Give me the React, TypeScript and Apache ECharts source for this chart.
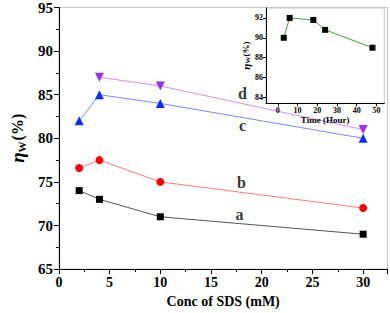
import React, { useEffect, useRef } from "react";
import * as echarts from "echarts";

const concSDS = [2, 4, 10, 30];
const seriesA = [74, 73, 71, 69];
const seriesB = [76.6, 77.5, 75, 72];
const seriesC = [82, 85, 84, 80];
const seriesD: (number | null)[] = [null, 87, 86, 81];

const curveLabels = [
  { name: "d", x: 18.1, y: 85.1 },
  { name: "c", x: 18.1, y: 81.5 },
  { name: "b", x: 18.0, y: 74.9 },
  { name: "a", x: 17.8, y: 71.3 },
];

const insetTime = [3, 6, 18, 24, 48];
const insetEta = [90, 92, 91.8, 90.8, 89];
const insetXTicks = [0, 10, 20, 30, 40, 50];
const insetYTicks = [84, 86, 88, 90, 92];

const FONT = "'Liberation Serif', 'Times New Roman', serif";

export default function App() {
  const ref = useRef<HTMLDivElement>(null);
  useEffect(() => {
    if (!ref.current) return;
    const chart = echarts.init(ref.current, undefined, { renderer: "svg" });
    const pair = (xs: number[], ys: (number | null)[]) =>
      xs.map((x, i) => [x, ys[i]]).filter((p) => p[1] !== null);
    const downTri = "path://M0,0 L10,0 L5,9 Z";
    const mainLine = (name: string, ys: (number | null)[], lineColor: string, markColor: string, symbol: string, size: number) => ({
      type: "line",
      name,
      xAxisIndex: 0,
      yAxisIndex: 0,
      data: pair(concSDS, ys),
      symbol,
      symbolSize: size,
      lineStyle: { color: lineColor, width: 1 },
      itemStyle: { color: markColor },
      z: 3,
    });
    chart.setOption({
      animation: false,
      backgroundColor: "#fff",
      grid: [
        { left: 45, top: 7, right: 2.5, bottom: 39, show: true, borderColor: "#c8c8c8", borderWidth: 1, backgroundColor: "transparent" },
        { left: 266, top: 8, right: 5.7, bottom: 209.7, show: true, borderColor: "#c8c8c8", borderWidth: 1, backgroundColor: "#fff", z: 5 },
      ],
      xAxis: [
        {
          type: "value",
          gridIndex: 0,
          min: 0,
          max: 32.4,
          interval: 5,
          splitLine: { show: false },
          axisLine: { onZero: false, lineStyle: { color: "#000", width: 1 } },
          axisTick: { length: 5, lineStyle: { color: "#000" } },
          minorTick: { show: true, splitNumber: 2, length: 3, lineStyle: { color: "#000" } },
          axisLabel: { color: "#000", fontFamily: FONT, fontWeight: "bold", fontSize: 14, margin: 6, showMaxLabel: false },
          name: "Conc of SDS (mM)",
          nameLocation: "middle",
          nameGap: 23,
          nameTextStyle: { color: "#000", fontFamily: FONT, fontWeight: "bold", fontSize: 14 },
        },
        {
          type: "value",
          gridIndex: 1,
          min: -6,
          max: 54,
          splitLine: { show: false },
          axisLine: { onZero: false, lineStyle: { color: "#000", width: 1 } },
          axisTick: { length: 3, customValues: insetXTicks, lineStyle: { color: "#000" } },
          axisLabel: { color: "#000", fontFamily: FONT, fontWeight: "bold", fontSize: 8, margin: 3, customValues: insetXTicks },
          name: "Time (Hour)",
          nameLocation: "middle",
          nameGap: 9,
          nameTextStyle: { color: "#000", fontFamily: FONT, fontWeight: "bold", fontSize: 9 },
          z: 6,
        },
      ],
      yAxis: [
        {
          type: "value",
          gridIndex: 0,
          min: 65,
          max: 95,
          interval: 5,
          splitLine: { show: false },
          axisLine: { onZero: false, lineStyle: { color: "#000", width: 1 } },
          axisTick: { length: 5, lineStyle: { color: "#000" } },
          minorTick: { show: true, splitNumber: 2, length: 3, lineStyle: { color: "#000" } },
          axisLabel: { color: "#000", fontFamily: FONT, fontWeight: "bold", fontSize: 15, margin: 6 },
          name: "{e|η}{s|W}{n|(%)}",
          nameLocation: "middle",
          nameGap: 24,
          nameTextStyle: {
            color: "#000",
            fontFamily: FONT,
            rich: {
              e: { fontFamily: FONT, fontStyle: "italic", fontWeight: "bold", fontSize: 19, color: "#000" },
              s: { fontFamily: FONT, fontWeight: "bold", fontSize: 11, color: "#000", padding: [8, 1, 0, 0] },
              n: { fontFamily: FONT, fontWeight: "bold", fontSize: 16, color: "#000" },
            },
          },
        },
        {
          type: "value",
          gridIndex: 1,
          min: 83.4,
          max: 93,
          splitLine: { show: false },
          axisLine: { onZero: false, lineStyle: { color: "#000", width: 1 } },
          axisTick: { length: 3, customValues: insetYTicks, lineStyle: { color: "#000" } },
          axisLabel: { color: "#000", fontFamily: FONT, fontWeight: "bold", fontSize: 8, margin: 3, customValues: insetYTicks },
          name: "{e|η}{s|W}{n|(%)}",
          nameLocation: "middle",
          nameGap: 14,
          nameTextStyle: {
            color: "#000",
            fontFamily: FONT,
            rich: {
              e: { fontFamily: FONT, fontStyle: "italic", fontWeight: "bold", fontSize: 11, color: "#000" },
              s: { fontFamily: FONT, fontWeight: "bold", fontSize: 7, color: "#000", padding: [4, 0, 0, 0] },
              n: { fontFamily: FONT, fontWeight: "bold", fontSize: 9, color: "#000" },
            },
          },
          z: 6,
        },
      ],
      series: [
        mainLine("a", seriesA, "#555555", "#000000", "rect", 7),
        mainLine("b", seriesB, "#ff7a7a", "#ff0000", "circle", 8),
        mainLine("c", seriesC, "#6f8cff", "#0a2cff", "triangle", 9),
        mainLine("d", seriesD, "#d98bff", "#a030f0", downTri, 9),
        {
          type: "scatter",
          xAxisIndex: 0,
          yAxisIndex: 0,
          symbolSize: 1,
          itemStyle: { color: "transparent" },
          data: curveLabels.map((l) => ({ name: l.name, value: [l.x, l.y] })),
          label: {
            show: true,
            position: "inside",
            formatter: (p: any) => p.name,
            color: "#000",
            fontFamily: FONT,
            fontWeight: "bold",
            fontSize: 16,
          },
          z: 4,
        },
        {
          type: "line",
          xAxisIndex: 1,
          yAxisIndex: 1,
          data: pair(insetTime, insetEta),
          symbol: "rect",
          symbolSize: 6,
          lineStyle: { color: "#3aa53a", width: 1 },
          itemStyle: { color: "#000" },
          z: 7,
        },
      ],
    });
    return () => chart.dispose();
  }, []);
  return <div ref={ref} style={{ position: "fixed", left: 0, top: 0, width: 390, height: 313 }} />;
}
